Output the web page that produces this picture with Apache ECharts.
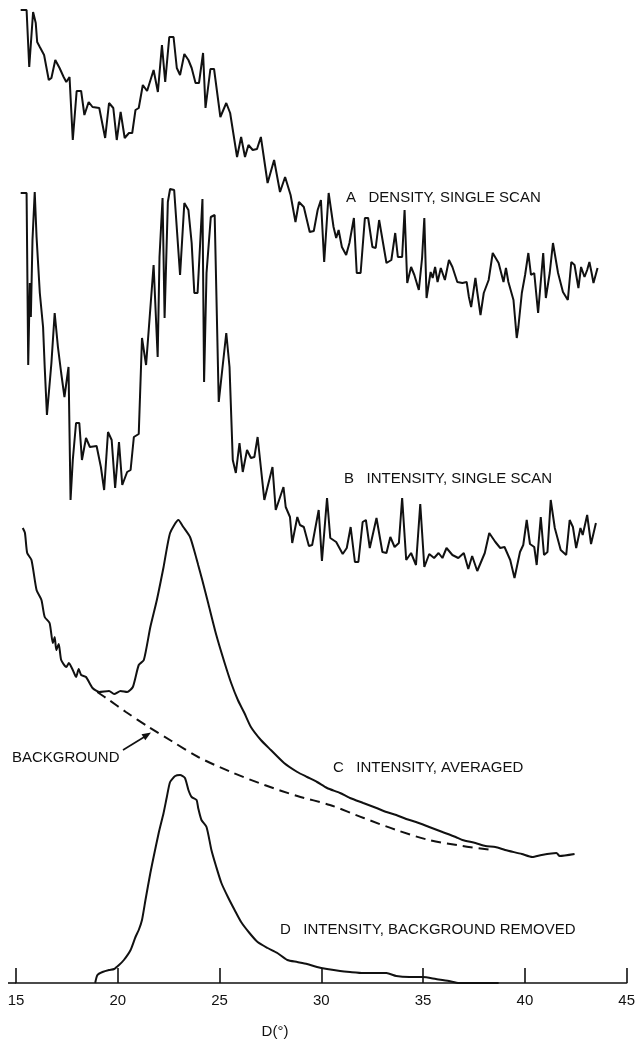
<!DOCTYPE html>
<html><head><meta charset="utf-8">
<script src="https://cdn.jsdelivr.net/npm/echarts/dist/echarts.min.js"></script>
<style>html,body{margin:0;padding:0;background:#fff}#c{width:638px;height:1043px}</style>
</head><body><div id="c"></div>
<script>
// x: D (degrees); y: intensity in arbitrary units, each trace offset vertically
const xTicks = [15, 20, 25, 30, 35, 40, 45];

const curveA = [
[15.23,97.3],[15.52,97.3],[15.65,91.6],[15.84,97.1],[15.97,96.0],[16.04,94.1],[16.17,93.6],[16.38,92.8],
[16.61,90.3],[16.74,90.5],[16.93,92.3],[17.14,91.5],[17.34,90.6],[17.47,90.1],[17.63,90.6],[17.79,84.3],
[17.98,89.2],[18.20,89.2],[18.36,86.8],[18.57,88.1],[18.76,87.6],[19.09,87.5],[19.38,84.5],[19.57,88.0],
[19.78,87.5],[19.95,84.3],[20.14,87.1],[20.34,84.5],[20.55,85.0],[20.71,85.0],[20.87,87.3],[21.03,87.5],
[21.23,89.8],[21.44,89.2],[21.76,91.3],[21.97,89.1],[22.17,93.8],[22.33,90.1],[22.53,94.6],[22.74,94.6],
[22.90,91.5],[23.06,90.8],[23.27,92.9],[23.47,92.3],[23.63,91.5],[23.82,90.0],[23.99,90.0],[24.19,93.0],
[24.31,87.5],[24.55,91.4],[24.73,91.4],[25.04,86.6],[25.33,88.0],[25.52,87.0],[25.86,82.6],[26.06,84.6],
[26.25,82.6],[26.42,83.8],[26.63,83.3],[26.84,83.4],[27.03,84.6],[27.36,80.0],[27.68,82.3],[27.97,79.1],
[28.22,80.6],[28.49,78.8],[28.73,76.1],[28.90,78.1],[29.14,77.6],[29.43,75.1],[29.63,75.2],[29.82,77.3],
[29.98,78.3],[30.14,72.1],[30.36,79.0],[30.60,75.6],[30.73,74.5],[30.85,75.3],[31.01,73.6],[31.22,72.8],
[31.38,74.0],[31.60,76.5],[31.74,71.0],[31.93,71.0],[32.14,76.5],[32.30,76.5],[32.51,73.6],[32.67,73.5],
[32.84,76.3],[33.20,72.0],[33.44,72.3],[33.63,75.0],[33.76,72.6],[33.97,72.6],[34.09,77.3],[34.22,70.0],
[34.41,71.6],[34.57,70.8],[34.79,69.3],[34.95,72.5],[35.06,76.5],[35.17,68.5],[35.37,71.1],[35.47,70.5],
[35.59,71.6],[35.71,70.1],[35.87,71.5],[36.07,70.3],[36.27,72.3],[36.44,71.6],[36.68,70.1],[36.93,70.0],
[37.14,70.1],[37.25,68.6],[37.36,67.6],[37.57,70.5],[37.66,69.1],[37.82,66.8],[37.98,69.0],[38.22,70.3],
[38.42,73.0],[38.71,72.0],[38.95,70.1],[39.07,71.5],[39.19,70.1],[39.44,68.3],[39.60,64.5],[39.68,65.6],
[39.85,69.0],[40.01,70.8],[40.17,73.0],[40.30,70.8],[40.46,71.0],[40.65,67.0],[40.90,73.0],[41.03,68.5],
[41.22,71.0],[41.38,74.0],[41.63,71.0],[41.87,69.1],[42.11,68.3],[42.28,72.1],[42.44,71.8],[42.63,69.5],
[42.76,71.6],[42.93,70.6],[43.06,71.3],[43.17,72.1],[43.28,71.0],[43.37,70.0],[43.57,71.5]
];

const curveB = [
[15.23,79.0],[15.52,79.0],[15.60,61.8],[15.68,70.0],[15.73,66.6],[15.81,74.3],[15.92,79.1],[16.01,74.6],
[16.17,69.0],[16.33,65.6],[16.41,61.6],[16.52,56.8],[16.74,62.0],[16.90,67.0],[17.06,63.6],[17.22,61.0],
[17.38,58.6],[17.58,61.6],[17.68,48.3],[17.79,52.3],[17.95,56.0],[18.11,56.0],[18.24,52.3],[18.44,54.5],
[18.63,53.6],[18.96,53.7],[19.17,51.6],[19.33,49.3],[19.52,55.1],[19.70,54.3],[19.87,49.5],[20.06,54.1],
[20.22,49.8],[20.46,51.1],[20.63,51.3],[20.79,54.6],[21.03,54.9],[21.19,64.5],[21.39,61.8],[21.76,71.8],
[21.96,62.6],[22.05,72.6],[22.20,78.5],[22.30,66.5],[22.46,78.1],[22.57,79.4],[22.77,79.3],[23.06,70.8],
[23.27,78.0],[23.47,77.3],[23.63,74.0],[23.76,69.0],[23.92,69.0],[24.16,78.4],[24.24,60.1],[24.36,71.0],
[24.57,76.6],[24.76,76.8],[24.96,58.1],[25.33,65.0],[25.49,61.6],[25.65,52.3],[25.80,51.0],[25.98,54.0],
[26.14,51.1],[26.35,53.3],[26.54,52.5],[26.71,52.6],[26.87,54.6],[27.20,48.3],[27.60,51.6],[27.76,47.3],
[28.14,49.6],[28.25,47.6],[28.46,46.6],[28.57,44.0],[28.82,46.6],[28.95,45.8],[29.14,45.6],[29.39,43.7],
[29.55,43.8],[29.87,47.3],[30.03,42.2],[30.28,48.5],[30.44,44.5],[30.73,44.1],[31.05,42.9],[31.25,43.5],
[31.44,45.6],[31.65,42.1],[31.82,42.1],[32.03,46.1],[32.19,46.3],[32.38,43.5],[32.71,46.5],[33.00,43.1],
[33.20,43.0],[33.39,44.6],[33.60,43.6],[33.81,44.0],[33.97,48.5],[34.17,42.3],[34.41,43.0],[34.65,41.8],
[34.86,47.9],[35.06,41.6],[35.30,42.9],[35.54,42.5],[35.76,43.0],[35.95,42.5],[36.15,43.5],[36.44,42.8],
[36.73,42.5],[37.00,43.0],[37.22,41.4],[37.41,42.7],[37.66,41.2],[38.03,43.0],[38.25,45.0],[38.55,44.1],
[38.79,43.5],[39.00,43.6],[39.28,42.3],[39.49,40.5],[39.76,43.1],[39.92,43.8],[40.09,46.3],[40.25,43.9],
[40.46,43.6],[40.58,41.8],[40.78,46.6],[40.94,42.8],[41.11,43.1],[41.27,48.3],[41.47,45.5],[41.76,43.3],
[42.03,42.8],[42.20,46.3],[42.36,45.6],[42.52,43.5],[42.73,45.5],[42.84,44.8],[43.06,46.8],[43.25,43.9],
[43.49,46.0]
];

const curveC = [
[15.33,45.5],[15.44,45.0],[15.55,43.0],[15.76,42.3],[16.01,39.3],[16.25,38.3],[16.41,36.6],[16.65,36.0],
[16.81,34.0],[16.90,34.6],[16.98,33.3],[17.10,33.9],[17.22,32.3],[17.47,31.6],[17.60,32.0],[17.79,31.3],
[17.95,30.6],[18.08,31.4],[18.20,30.8],[18.44,30.6],[18.76,29.5],[19.09,29.1],[19.57,29.2],[19.82,28.9],
[20.14,29.2],[20.46,29.1],[20.74,29.6],[21.03,31.8],[21.28,32.3],[21.60,35.6],[21.92,38.3],[22.25,41.6],
[22.57,45.0],[22.98,46.3],[23.22,45.6],[23.55,44.6],[23.79,43.0],[23.95,41.8],[24.15,40.3],[24.44,38.0],
[24.84,34.8],[25.25,32.0],[25.57,30.0],[25.90,28.3],[26.22,27.0],[26.54,25.6],[27.03,24.3],[27.52,23.3],
[28.17,22.0],[28.82,21.1],[29.30,20.6],[29.79,20.1],[30.28,19.5],[30.92,19.0],[31.41,18.5],[32.06,18.0],
[32.71,17.5],[33.20,17.1],[33.68,16.8],[34.17,16.4],[34.65,16.1],[35.30,15.6],[35.95,15.1],[36.60,14.6],
[36.93,14.3],[37.57,14.0],[38.06,13.7],[38.55,13.6],[39.03,13.3],[39.85,12.9],[40.36,12.6],[40.82,12.8],
[41.55,13.0],[41.71,12.7],[42.44,12.9]
];

const background = [
[18.99,29.1],[19.57,28.3],[20.40,27.1],[21.52,25.6],[22.64,24.2],[23.95,22.6],[25.56,21.1],[27.21,19.8],
[28.82,18.7],[30.42,17.8],[32.08,16.5],[33.68,15.3],[35.29,14.3],[36.94,13.7],[38.40,13.3]
];

const curveD = [
[18.89,0.0],[19.00,0.8],[19.25,1.1],[19.57,1.3],[19.82,1.4],[20.06,1.8],[20.30,2.3],[20.63,3.3],
[20.87,4.6],[21.03,5.3],[21.19,6.3],[21.36,8.3],[21.60,11.0],[21.76,12.6],[22.01,15.0],[22.25,17.0],
[22.41,18.6],[22.57,20.1],[22.82,20.7],[23.06,20.8],[23.30,20.5],[23.47,19.3],[23.63,18.6],[23.87,18.3],
[23.95,17.5],[24.11,16.3],[24.36,15.6],[24.60,13.3],[24.84,11.6],[25.09,10.0],[25.41,8.6],[25.74,7.3],
[26.06,6.1],[26.47,5.0],[26.87,4.1],[27.36,3.5],[27.84,3.0],[28.33,2.3],[28.82,2.1],[29.30,1.9],
[29.79,1.6],[30.28,1.4],[30.92,1.2],[31.41,1.1],[32.06,1.0],[32.71,1.0],[33.20,1.0],[33.68,0.7],
[34.33,0.6],[34.98,0.6],[35.63,0.4],[36.27,0.2],[36.76,0.0],[37.41,0.0],[38.22,0.0],[38.71,0.0]
];

const traceLabels = [
  'A   DENSITY, SINGLE SCAN',
  'B   INTENSITY, SINGLE SCAN',
  'C   INTENSITY, AVERAGED',
  'D   INTENSITY, BACKGROUND REMOVED'
];
const backgroundLabel = 'BACKGROUND';
const axisTitle = 'D(°)';

const FONT = '15px "Liberation Sans", Arial, Helvetica, sans-serif';
const INK = '#111';
const chart = echarts.init(document.getElementById('c'), null, {renderer: 'canvas'});

function lineSeries(data, extra) {
  return Object.assign({
    type: 'line', data: data, symbol: 'none', showSymbol: false,
    lineStyle: {color: INK, width: 2}, animation: false, z: 3
  }, extra || {});
}

function txt(text, x, y, align) {
  return {type: 'text', x: x, y: y, z: 10,
    style: {text: text, font: FONT, fill: INK, align: align || 'left', verticalAlign: 'middle'}};
}

chart.setOption({
  backgroundColor: '#fff',
  animation: false,
  grid: {left: 16, right: 5.3, top: 0, bottom: 60},
  xAxis: {
    type: 'value', min: xTicks[0], max: xTicks[xTicks.length - 1], interval: 5,
    axisLine: {lineStyle: {color: INK, width: 1.6}},
    axisTick: {inside: true, length: 15, lineStyle: {color: INK, width: 1.6}},
    axisLabel: {fontSize: 15, color: INK, margin: 10, fontFamily: '"Liberation Sans", Arial, sans-serif', showMaxLabel: true, showMinLabel: true},
    splitLine: {show: false}
  },
  yAxis: {type: 'value', min: 0, max: 98.3, show: false, splitLine: {show: false}},
  series: [
    lineSeries(curveA),
    lineSeries(curveB),
    lineSeries(curveC, {smooth: 0.2}),
    lineSeries(background, {smooth: 0.3, lineStyle: {color: INK, width: 2, type: [10, 6]}}),
    lineSeries(curveD, {smooth: 0.2})
  ],
  graphic: [
    {type: 'line', z: 5, shape: {x1: 8, y1: 983, x2: 16, y2: 983}, style: {stroke: INK, lineWidth: 1.6}},
    txt(traceLabels[0], 346, 198),
    txt(traceLabels[1], 344, 479),
    txt(traceLabels[2], 333, 768),
    txt(traceLabels[3], 280, 930),
    txt(backgroundLabel, 12, 758),
    txt(axisTitle, 275, 1032, 'center'),
    {type: 'line', z: 5, shape: {x1: 123, y1: 750, x2: 145, y2: 736.5}, style: {stroke: INK, lineWidth: 1.6}},
    {type: 'polygon', z: 5, shape: {points: [[151, 732.5], [145.3, 740.3], [141.5, 734.3]]}, style: {fill: INK}}
  ]
});
</script>
</body></html>
